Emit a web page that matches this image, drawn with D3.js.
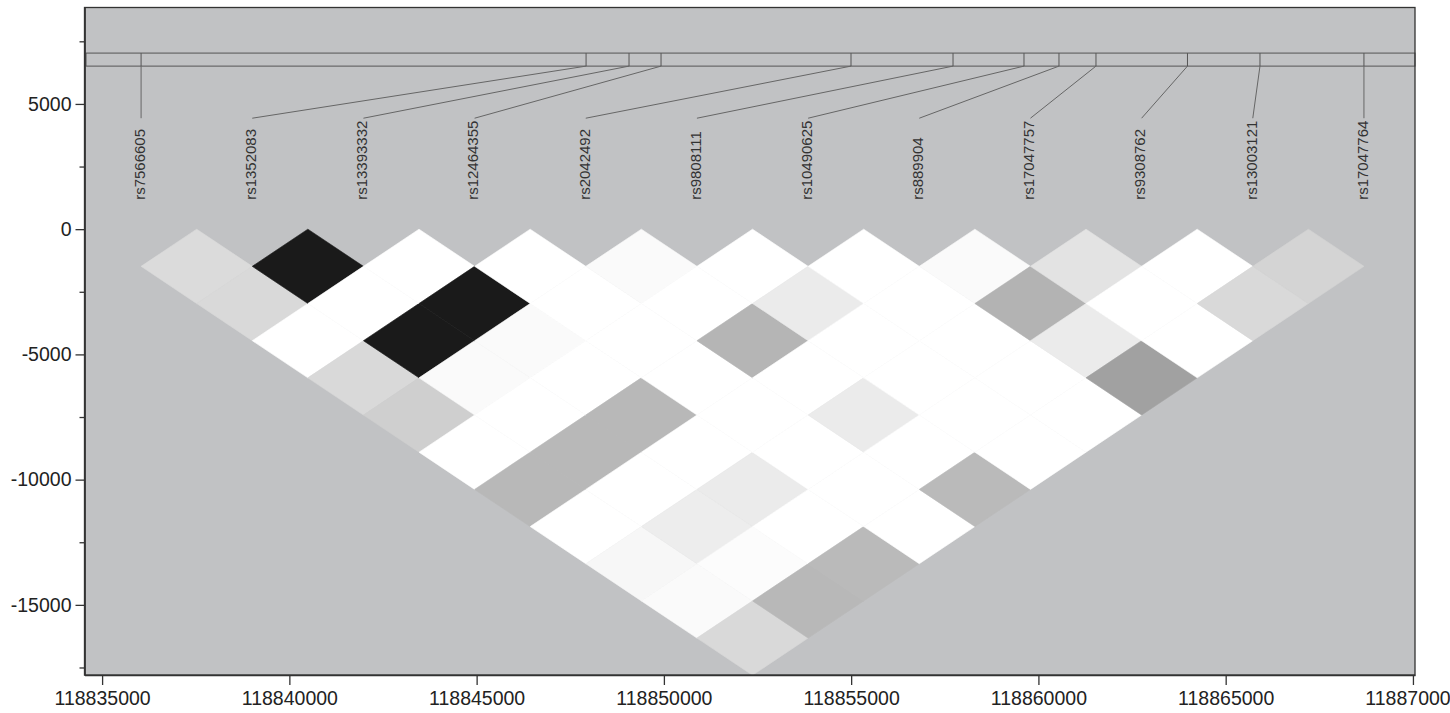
<!DOCTYPE html>
<head>
<meta charset="utf-8">
<script src="https://d3js.org/d3.v7.min.js"></script>
<style>
    body { margin: 0; background: #fff; }
    .axis text { font-family: "Liberation Sans", Arial, sans-serif; font-size: 19.5px; fill: #222; }
    .axis path, .axis line { stroke: #333; stroke-width: 1.3; }
    .snp text { font-family: "Liberation Sans", Arial, sans-serif; font-size: 15px; fill: #333; }
</style>
</head>
<body>
<div id="chart"></div>
<script>
// SNP names and genomic positions
var snpNames = ["rs7566605", "rs1352083", "rs13393332", "rs12464355", "rs2042492", "rs9808111",
                "rs10490625", "rs889904", "rs17047757", "rs9308762", "rs13003121", "rs17047764"];
var snpPos = [118836041, 118847922, 118849069, 118849924, 118854996, 118857720,
              118859615, 118860549, 118861537, 118863980, 118865916, 118868692];

// pairwise LD (upper triangle), row i = pairs (i, i+1), (i, i+2), ...
var ldRows = [
    [0.14, 0.15, 0.00, 0.15, 0.19, 0.00, 0.28, 0.00, 0.03, 0.02, 0.15],
    [0.90, 0.00, 0.90, 0.02, 0.00, 0.28, 0.00, 0.07, 0.01, 0.28],
    [0.00, 0.90, 0.02, 0.00, 0.28, 0.00, 0.08, 0.00, 0.27],
    [0.00, 0.00, 0.00, 0.00, 0.00, 0.00, 0.00, 0.00],
    [0.02, 0.00, 0.29, 0.00, 0.08, 0.00, 0.27],
    [0.00, 0.08, 0.00, 0.00, 0.00, 0.00],
    [0.00, 0.00, 0.00, 0.00, 0.00],
    [0.02, 0.30, 0.08, 0.37],
    [0.11, 0.00, 0.00],
    [0.00, 0.15],
    [0.17]
];

var xTicks = [118835000, 118840000, 118845000, 118850000, 118855000, 118860000, 118865000, 118870000];
var yTicks = [-15000, -10000, -5000, 0, 5000];
var yMinorTicks = [-17500, -12500, -7500, -2500, 2500, 7500];

var width = 1450, height = 713;
var box = {left: 84.5, right: 1415, top: 7.5, bottom: 675};

var svg = d3.select('#chart').append('svg')
    .attr('width', width)
    .attr('height', height);

var x = d3.scaleLinear().domain([118834530, 118870055]).range([box.left, box.right]);
var y = d3.scaleLinear().domain([-17800, 8850]).range([box.bottom, box.top]);

// fundo do painel
svg.append('rect')
    .attr('x', box.left).attr('y', box.top)
    .attr('width', box.right - box.left).attr('height', box.bottom - box.top)
    .attr('fill', '#c1c2c4');

svg.append('clipPath').attr('id', 'clip')
    .append('rect')
    .attr('x', box.left).attr('y', box.top)
    .attr('width', box.right - box.left).attr('height', box.bottom - box.top);

// heatmap ------------------------------------------------------------
var n = snpPos.length;
var step = (snpPos[n - 1] - snpPos[0]) / (n - 1);
var cells = [];
ldRows.forEach(function(row, i) {
    row.forEach(function(v, k) {
        cells.push({i: i, j: i + k + 1, v: v});
    });
});

var grey = d3.scaleLinear().domain([0, 1]).range(['#ffffff', '#000000']);

function diamond(c) {
    var cx = snpPos[0] + step * (c.i + c.j) / 2;
    var cy = -step * (c.j - c.i) / 2;
    var h = step / 2;
    return [[cx, cy + h], [cx + h, cy], [cx, cy - h], [cx - h, cy]]
        .map(function(p) { return [x(p[0]), y(p[1])]; });
}

svg.append('g').attr('clip-path', 'url(#clip)')
    .selectAll('path')
    .data(cells)
    .enter()
    .append('path')
    .attr('d', function(c) { return d3.line()(diamond(c)) + 'Z'; })
    .attr('fill', function(c) { return grey(c.v); })
    .attr('stroke', function(c) { return grey(c.v); })
    .attr('stroke-width', 0.6);

// barra de SNPs e nomes ----------------------------------------------
var barTop = 7030, barBottom = 6510, lineEnd = 4430, labelBase = 1170;
var snp = svg.append('g').attr('class', 'snp');

snp.append('rect')
    .attr('x', x.range()[0] + 1.5).attr('y', y(barTop))
    .attr('width', x.range()[1] - x.range()[0] - 1.5)
    .attr('height', y(barBottom) - y(barTop))
    .attr('fill', 'none')
    .attr('stroke', '#555')
    .attr('stroke-width', 1);

snp.selectAll('line.tick')
    .data(snpPos)
    .enter().append('line')
    .attr('class', 'tick')
    .attr('x1', function(d) { return x(d); })
    .attr('x2', function(d) { return x(d); })
    .attr('y1', y(barTop)).attr('y2', y(barBottom))
    .attr('stroke', '#555');

snp.selectAll('line.link')
    .data(snpPos)
    .enter().append('line')
    .attr('class', 'link')
    .attr('x1', function(d) { return x(d); })
    .attr('y1', y(barBottom))
    .attr('x2', function(d, i) { return x(snpPos[0] + step * i); })
    .attr('y2', y(lineEnd))
    .attr('stroke', '#666');

snp.selectAll('text')
    .data(snpNames)
    .enter().append('text')
    .attr('transform', function(d, i) {
        return 'translate(' + x(snpPos[0] + step * i) + ',' + y(labelBase) + ') rotate(-90)';
    })
    .attr('dy', '0.25em')
    .text(function(d) { return d; });

// eixos ------------------------------------------------------------
svg.append('g')
    .attr('class', 'axis')
    .attr('transform', 'translate(0,' + box.bottom + ')')
    .call(d3.axisBottom(x).tickValues(xTicks).tickSize(10).tickPadding(6)
        .tickSizeOuter(0).tickFormat(function(d) { return String(d); }));

svg.append('g')
    .attr('class', 'axis')
    .attr('transform', 'translate(' + box.left + ',0)')
    .call(d3.axisLeft(y).tickValues(yTicks).tickSize(9).tickPadding(4)
        .tickSizeOuter(0).tickFormat(function(d) { return String(d); }));

svg.append('g')
    .attr('class', 'axis')
    .attr('transform', 'translate(' + box.left + ',0)')
    .call(d3.axisLeft(y).tickValues(yMinorTicks).tickSize(5).tickSizeOuter(0).tickFormat(''));

// moldura
svg.append('rect')
    .attr('x', box.left).attr('y', box.top)
    .attr('width', box.right - box.left).attr('height', box.bottom - box.top)
    .attr('fill', 'none')
    .attr('stroke', '#333')
    .attr('stroke-width', 1.3);
</script>
</body>
